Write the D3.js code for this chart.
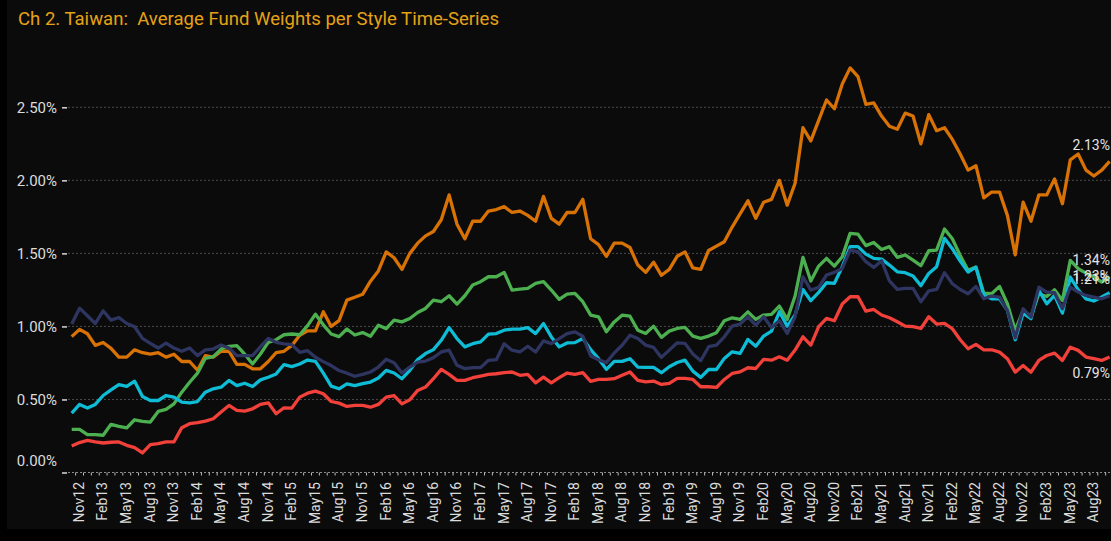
<!DOCTYPE html>
<html>
<head>
<meta charset="utf-8">
<script src="https://cdn.jsdelivr.net/npm/d3@7"></script>
<style>
  html, body { margin: 0; padding: 0; background: #000; }
  svg { display: block; }
</style>
</head>
<body>
<svg id="chart" width="1111" height="541"></svg>
<script>
// ---- Chart text ----
const chartTitle = "Ch 2. Taiwan:  Average Fund Weights per Style Time-Series";

// ---- Categories: monthly observations, Nov 2012 to Nov 2023 ----
const firstMonth = new Date(2012, 10, 1);
const lastMonth = new Date(2023, 10, 1);
const monthFormat = d3.timeFormat("%b%y");
const categories = d3.timeMonth.range(firstMonth, d3.timeMonth.offset(lastMonth, 1)).map(monthFormat);

// ---- Axis tick labels ----
const xTickLabels = [
  "Nov12","Feb13","May13","Aug13","Nov13","Feb14","May14","Aug14","Nov14","Feb15","May15",
  "Aug15","Nov15","Feb16","May16","Aug16","Nov16","Feb17","May17","Aug17","Nov17","Feb18",
  "May18","Aug18","Nov18","Feb19","May19","Aug19","Nov19","Feb20","May20","Aug20","Nov20",
  "Feb21","May21","Aug21","Nov21","Feb22","May22","Aug22","Nov22","Feb23","May23","Aug23"
];
const yTickValues = [0, 0.5, 1.0, 1.5, 2.0, 2.5];

// ---- Series values (average fund weight, %) ----
const orangeSeries = [
  0.93,0.98,0.95,0.87,0.89,0.85,0.79,0.79,0.84,0.82,0.81,0.82,0.79,0.81,0.76,0.76,0.70,0.80,0.79,0.83,
  0.83,0.74,0.74,0.71,0.71,0.76,0.82,0.83,0.87,0.94,0.97,0.97,1.10,1.00,1.04,1.18,1.20,
  1.22,1.31,1.38,1.51,1.47,1.39,1.50,1.57,1.62,1.65,1.73,1.90,1.70,1.60,1.72,1.72,1.79,1.80,1.82,
  1.78,1.79,1.76,1.72,1.89,1.74,1.70,1.78,1.78,1.87,1.60,1.56,1.48,1.57,1.57,1.54,1.42,
  1.37,1.44,1.35,1.39,1.48,1.51,1.40,1.39,1.52,1.55,1.58,1.68,1.77,1.86,1.74,1.85,1.87,2.00,1.83,
  1.98,2.36,2.27,2.41,2.55,2.49,2.66,2.77,2.71,2.52,2.53,2.44,2.37,2.35,2.46,2.44,2.25,2.45,2.34,2.36,
  2.28,2.18,2.07,2.10,1.88,1.92,1.92,1.76,1.49,1.85,1.72,1.90,1.90,2.01,1.84,2.14,2.18,2.07,2.03,2.07,2.13
];
const greenSeries = [
  0.295,0.295,0.259,0.259,0.255,0.330,0.316,0.305,0.361,0.350,0.345,0.418,0.432,0.470,0.550,0.618,0.680,
  0.782,0.793,0.845,0.864,0.868,0.811,0.743,0.811,0.891,0.909,0.943,0.948,0.943,1.005,1.084,1.011,0.948,
  0.930,0.982,0.941,
  0.958,0.933,1.008,0.985,1.043,1.031,1.054,1.095,1.123,1.180,1.169,1.210,1.153,1.210,1.283,1.306,1.340,
  1.340,1.370,1.249,1.256,1.260,1.295,1.306,1.249,1.185,1.221,1.226,1.169,1.077,1.066,0.963,1.031,1.077,
  1.070,0.974,
  0.952,1.002,0.925,0.968,0.986,0.993,0.934,0.918,0.934,0.957,1.039,1.059,1.048,1.100,1.048,1.078,1.082,
  1.139,1.048,1.208,1.473,1.311,1.413,1.466,1.413,1.477,1.637,1.632,1.553,1.575,1.527,1.546,1.473,1.489,
  1.454,1.416,1.518,1.523,1.667,
  1.600,1.486,1.384,1.406,1.228,1.224,1.274,1.155,0.973,1.110,1.068,1.224,1.205,1.251,1.178,1.452,1.395,
  1.365,1.338,1.304,1.34
];
const cyanSeries = [
  0.407,0.466,0.441,0.466,0.527,0.566,0.602,0.589,0.625,0.520,0.493,0.493,0.527,0.516,0.482,0.477,0.486,
  0.550,0.573,0.584,0.630,0.595,0.611,0.589,0.634,0.652,0.675,0.739,0.725,0.743,0.770,0.761,0.680,0.591,
  0.573,0.607,0.595,
  0.608,0.619,0.647,0.699,0.681,0.642,0.699,0.773,0.814,0.841,0.905,0.992,0.917,0.860,0.882,0.894,0.947,
  0.951,0.974,0.981,0.981,0.992,0.951,1.020,0.928,0.860,0.887,0.889,0.917,0.841,0.779,0.706,0.761,0.761,
  0.779,0.722,
  0.719,0.719,0.683,0.724,0.753,0.769,0.694,0.651,0.705,0.705,0.781,0.826,0.815,0.911,0.865,0.934,0.968,
  1.100,1.002,1.078,1.253,1.176,1.233,1.299,1.295,1.409,1.546,1.546,1.495,1.466,1.461,1.420,1.374,1.368,
  1.345,1.279,1.363,1.409,1.603,
  1.532,1.447,1.372,1.406,1.212,1.189,1.189,1.110,0.909,1.091,1.053,1.247,1.155,1.212,1.091,1.338,1.251,
  1.189,1.174,1.201,1.23
];
const navySeries = [
  1.016,1.125,1.073,1.020,1.107,1.043,1.061,1.020,0.998,0.918,0.884,0.852,0.886,0.852,0.830,0.852,0.800,
  0.839,0.845,0.873,0.852,0.800,0.800,0.800,0.861,0.918,0.891,0.880,0.875,0.823,0.834,0.789,0.759,0.732,
  0.698,0.680,0.659,
  0.672,0.688,0.722,0.775,0.752,0.681,0.722,0.756,0.763,0.786,0.825,0.837,0.734,0.711,0.718,0.718,0.768,
  0.772,0.882,0.837,0.825,0.864,0.825,0.901,0.882,0.917,0.951,0.963,0.933,0.798,0.772,0.752,0.818,0.871,
  0.940,0.917,
  0.872,0.856,0.788,0.838,0.888,0.884,0.811,0.765,0.861,0.872,0.929,1.002,1.016,1.066,1.009,1.066,0.993,
  1.039,0.952,1.066,1.340,1.249,1.267,1.352,1.370,1.397,1.523,1.511,1.443,1.404,1.450,1.311,1.253,1.260,
  1.260,1.169,1.244,1.253,1.368,
  1.292,1.253,1.224,1.274,1.189,1.208,1.201,1.110,0.922,1.121,1.064,1.269,1.235,1.231,1.121,1.269,1.235,
  1.212,1.201,1.189,1.21
];
const redSeries = [
  0.182,0.205,0.220,0.209,0.202,0.207,0.209,0.186,0.170,0.134,0.191,0.198,0.209,0.209,0.307,0.334,0.341,
  0.352,0.368,0.414,0.459,0.425,0.420,0.436,0.466,0.477,0.402,0.443,0.441,0.516,0.543,0.557,0.539,0.486,
  0.475,0.452,0.459,
  0.459,0.447,0.466,0.516,0.527,0.470,0.498,0.562,0.585,0.642,0.706,0.672,0.631,0.631,0.649,0.660,0.672,
  0.676,0.683,0.688,0.665,0.672,0.614,0.653,0.614,0.649,0.681,0.672,0.683,0.624,0.637,0.637,0.642,0.665,
  0.688,0.631,
  0.621,0.626,0.603,0.610,0.644,0.644,0.637,0.587,0.587,0.582,0.637,0.678,0.689,0.717,0.712,0.774,0.769,
  0.792,0.769,0.838,0.929,0.872,0.998,1.055,1.039,1.153,1.203,1.203,1.105,1.116,1.078,1.059,1.032,1.002,
  0.998,0.986,1.066,1.016,1.021,
  0.984,0.909,0.847,0.877,0.840,0.840,0.824,0.779,0.687,0.733,0.687,0.767,0.801,0.817,0.767,0.858,0.836,
  0.790,0.779,0.767,0.79
];

// Series drawing table (colour + label placement above/below the final point)
const seriesTable = [
  { values: orangeSeries, color: "#D97205", labelSide: -1 },
  { values: greenSeries,  color: "#4CAF50", labelSide: -1 },
  { values: cyanSeries,   color: "#0FBCD6", labelSide: -1 },
  { values: navySeries,   color: "#2E3560", labelSide: -1 },
  { values: redSeries,    color: "#F2403A", labelSide: 1 }
];

// ---- Layout ----
const W = 1111, H = 541;
const plotLeft = 68, plotRight = 1111;
const fontFamily = "Roboto, 'Noto Sans', sans-serif";

const svg = d3.select("#chart");

svg.append("rect").attr("x", 0).attr("y", 0).attr("width", W).attr("height", H).attr("fill", "#000");
svg.append("rect").attr("x", 7).attr("y", 0).attr("width", W - 7).attr("height", 529).attr("fill", "#0b0b0b");

const x = d3.scalePoint().domain(categories).range([71.7, 1109.6]);
const y = d3.scaleLinear().domain([0, 2.5]).range([472.5, 107.3]);
const step = x.step();

// Title (double space kept)
svg.append("text")
  .attr("x", 18).attr("y", 25)
  .attr("fill", "#E5A216")
  .attr("font-family", fontFamily)
  .attr("font-size", 19)
  .attr("textLength", 481)
  .attr("lengthAdjust", "spacingAndGlyphs")
  .style("white-space", "pre")
  .text(chartTitle);

// Horizontal grid
svg.append("g").selectAll("line")
  .data(yTickValues.filter(v => v > 0))
  .join("line")
  .attr("x1", plotLeft).attr("x2", plotRight)
  .attr("y1", d => y(d)).attr("y2", d => y(d))
  .attr("stroke", "#4a4a4a").attr("stroke-width", 1)
  .attr("stroke-dasharray", "2,2");

// Y axis (ticks + labels)
const yAxis = d3.axisLeft(y)
  .tickValues(yTickValues)
  .tickFormat(d => d3.format(".2f")(d) + "%")
  .tickSize(5)
  .tickPadding(5);
const yAxisG = svg.append("g").attr("transform", `translate(${plotLeft - 1},0)`).call(yAxis);
yAxisG.select(".domain").remove();
yAxisG.selectAll(".tick line").attr("stroke", "#d8d8d8").attr("stroke-width", 1.5);
yAxisG.selectAll(".tick text")
  .attr("fill", "#dcdcdc")
  .attr("font-family", fontFamily)
  .attr("font-size", 15)
  .attr("dy", d => d === 0 ? "-0.5em" : "0.35em");

// X axis baseline with monthly ticks
svg.append("line")
  .attr("x1", plotLeft).attr("x2", plotRight)
  .attr("y1", y(0)).attr("y2", y(0))
  .attr("stroke", "#8a8a8a").attr("stroke-width", 1)
  .attr("stroke-dasharray", "2,2");

svg.append("g").selectAll("line")
  .data(categories.slice(0, -1))
  .join("line")
  .attr("x1", d => x(d) + step / 2).attr("x2", d => x(d) + step / 2)
  .attr("y1", y(0)).attr("y2", y(0) + 3)
  .attr("stroke", "#bdbdbd").attr("stroke-width", 1);

// Rotated category labels
svg.append("g").selectAll("text")
  .data(xTickLabels)
  .join("text")
  .attr("transform", d => `translate(${x(d) + 7.3},482) rotate(-90)`)
  .attr("text-anchor", "end")
  .attr("dy", "0.35em")
  .attr("fill", "#dcdcdc")
  .attr("font-family", fontFamily)
  .attr("font-size", 14)
  .text(d => d);

// Lines
const line = d3.line()
  .x((d, i) => x(categories[i]))
  .y(d => y(d));

svg.append("g").selectAll("path")
  .data(seriesTable)
  .join("path")
  .attr("d", d => line(d.values))
  .attr("fill", "none")
  .attr("stroke", d => d.color)
  .attr("stroke-width", 3.3)
  .attr("stroke-linejoin", "round");

// End-of-series value labels
svg.append("g").selectAll("text")
  .data(seriesTable)
  .join("text")
  .attr("x", 1110)
  .attr("y", d => y(d.values[d.values.length - 1]) + d.labelSide * 16.5)
  .attr("dy", "0.35em")
  .attr("text-anchor", "end")
  .attr("fill", "#e4e4e4")
  .attr("font-family", fontFamily)
  .attr("font-size", 14)
  .text(d => d3.format(".2f")(d.values[d.values.length - 1]) + "%");
</script>
</body>
</html>
